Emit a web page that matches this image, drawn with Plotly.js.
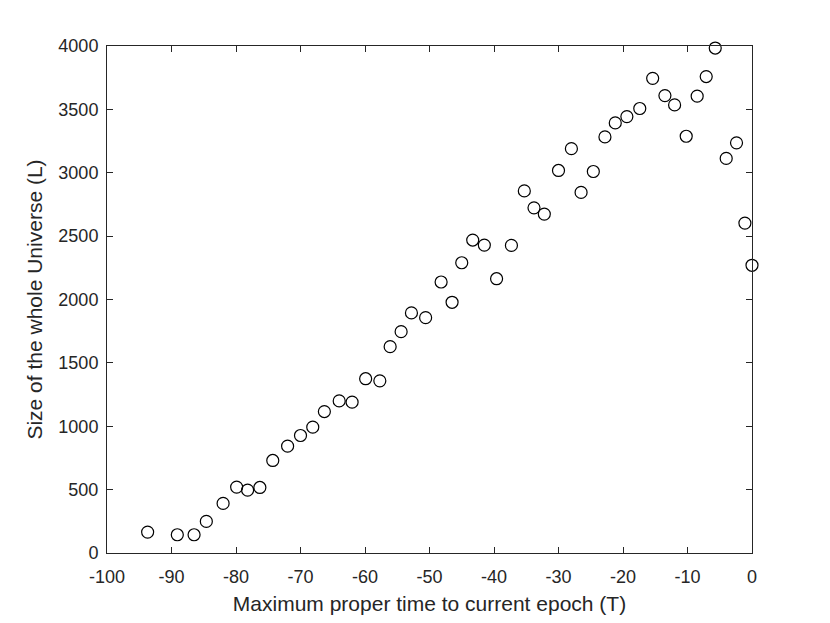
<!DOCTYPE html>
<html>
<head>
<meta charset="utf-8">
<script src="https://cdn.plot.ly/plotly-3.0.1.min.js"></script>
<style>
  html, body { margin: 0; padding: 0; background: #fff; }
  #chart { width: 830px; height: 623px; }
</style>
</head>
<body>
<div id="chart"></div>
<script>
// proper time (T) vs size of the universe (L)
const properTime = [
  -93.7, -89.1, -86.5, -84.6, -82.0, -79.9, -78.2, -76.3, -74.3, -72.0,
  -70.0, -68.1, -66.3, -64.0, -62.0, -59.9, -57.7, -56.1, -54.4, -52.8,
  -50.6, -48.2, -46.5, -45.0, -43.3, -41.5, -39.6, -37.3, -35.3, -33.8,
  -32.2, -30.0, -28.0, -26.5, -24.6, -22.8, -21.2, -19.4, -17.4, -15.4,
  -13.5, -12.0, -10.2, -8.5, -7.1, -5.7, -4.0, -2.4, -1.1, 0
];
const universeSize = [
  165, 144, 144, 249, 391, 520, 496, 517, 730, 843,
  927, 993, 1116, 1200, 1190, 1375, 1358, 1628, 1746, 1894,
  1857, 2138, 1978, 2290, 2469, 2429, 2164, 2427, 2857, 2723,
  2674, 3018, 3190, 2845, 3010, 3283, 3393, 3443, 3507, 3745,
  3609, 3535, 3288, 3604, 3759, 3984, 3113, 3236, 2603, 2270
];

const xTicks = [-100, -90, -80, -70, -60, -50, -40, -30, -20, -10, 0];
const yTicks = [0, 500, 1000, 1500, 2000, 2500, 3000, 3500, 4000];

const axisColor = "#262626";
const font = "Liberation Sans, Arial, Helvetica, sans-serif";

const trace = {
  x: properTime,
  y: universeSize,
  type: "scatter",
  mode: "markers",
  cliponaxis: false,
  marker: {
    symbol: "circle-open",
    size: 12,
    color: "#000",
    line: { width: 1.2, color: "#000" }
  },
  hoverinfo: "x+y"
};

const axisCommon = {
  showline: true,
  linecolor: axisColor,
  linewidth: 1,
  mirror: "ticks",
  ticks: "inside",
  ticklen: 6,
  tickwidth: 1,
  tickcolor: axisColor,
  showgrid: false,
  zeroline: false,
  tickfont: { family: font, size: 18, color: axisColor }
};

const layout = {
  width: 830,
  height: 623,
  margin: { l: 107, r: 78, t: 46, b: 70 },
  paper_bgcolor: "#fff",
  plot_bgcolor: "#fff",
  showlegend: false,
  xaxis: Object.assign({}, axisCommon, {
    range: [-100, 0],
    tickvals: xTicks,
    ticktext: xTicks.map(String),
    ticklabelstandoff: 7,
    title: {
      text: "Maximum proper time to current epoch (T)",
      font: { family: font, size: 21, color: axisColor },
      standoff: 10
    }
  }),
  yaxis: Object.assign({}, axisCommon, {
    range: [0, 4000],
    tickvals: yTicks,
    ticktext: yTicks.map(String),
    ticklabelstandoff: 4,
    title: {
      text: "Size of the whole Universe (L)",
      font: { family: font, size: 21, color: axisColor },
      standoff: 10
    }
  })
};

Plotly.newPlot("chart", [trace], layout, { displayModeBar: false, staticPlot: true });
</script>
</body>
</html>
